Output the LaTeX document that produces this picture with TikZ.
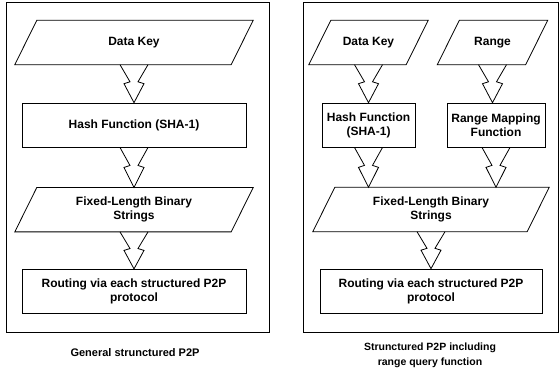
\documentclass[tikz,border=0pt]{standalone}
\usepackage{fontspec}
\setmainfont{Liberation Sans}
\usetikzlibrary{positioning,calc}

\tikzstyle{block} = [rectangle, draw, line width=0.8pt, text centered, align=center,
    minimum height=44pt, inner sep=2pt, font=\fontsize{12}{14}\selectfont\bfseries]
\tikzstyle{panel} = [rectangle, draw, line width=1pt, inner sep=0pt]
\tikzstyle{caption} = [align=center, font=\fontsize{11}{15}\selectfont\bfseries]
\tikzstyle{zapline} = [draw, line width=0.8pt, line join=miter]
\tikzset{para/.style={rectangle, text centered, align=center, minimum width=#1,
    minimum height=44pt, inner sep=2pt, font=\fontsize{12}{14}\selectfont\bfseries,
    append after command={\pgfextra{\draw[line width=0.8pt]
      ([xshift=11pt]\tikzlastnode.north west) -- ([xshift=11pt]\tikzlastnode.north east) --
      ([xshift=-11pt]\tikzlastnode.south east) -- ([xshift=-11pt]\tikzlastnode.south west) -- cycle;}}}}

% zigzag arrow from one node down to the next
\newcommand{\zap}[2]{%
  \coordinate (zt) at (#1.south);
  \coordinate (zb) at (#1.south |- #2.north);
  \draw[zapline] ($(zt)+(-14pt,0)$) -- ($(zt)!0.45!(zb)+(-4pt,0)$) -- ($(zt)!0.5!(zb)+(-10pt,0)$) --
    (zb) -- ($(zt)!0.5!(zb)+(10pt,0)$) -- ($(zt)!0.45!(zb)+(4pt,0)$) -- ($(zt)+(14pt,0)$);
}

\begin{document}
\begin{tikzpicture}[x=1pt,y=1pt,node distance=38pt]
  \useasboundingbox (0,0) rectangle (560,374);

  \node [panel, minimum width=263pt, minimum height=330pt] (left) at (137.5,206) {};
  \node [panel, minimum width=255pt, minimum height=330pt] (right) at (430.5,206) {};

  % general structured P2P
  \node [para=216pt] (key1) at (134,331.5) {Data Key};
  \node [block, minimum width=224pt, below=of key1] (hash1) {Hash Function (SHA-1)};
  \node [para=216pt, below=40pt of hash1] (bin1) {Fixed-Length Binary\\Strings};
  \node [block, minimum width=224pt, below=37pt of bin1] (route1) {Routing via each structured P2P\\protocol};
  \node [caption] (capl) at (135,21) {General strunctured P2P};

  % with range query
  \node [para=97pt] (key2) at (368.5,331.5) {Data Key};
  \node [para=88pt] (range) at (492.5,331.5) {Range};
  \node [block, minimum width=93pt, below=of key2] (hash2) {Hash Function\\(SHA-1)};
  \node [block, minimum width=98pt, below=of range, xshift=3.5pt] (map) {Range Mapping\\Function};
  \node [para=214pt] (bin2) at (431,164.5) {Fixed-Length Binary\\Strings};
  \node [block, minimum width=222pt, below=37pt of bin2] (route2) {Routing via each structured P2P\\protocol};
  \node [caption, font=\fontsize{10.5}{15}\selectfont\bfseries] (capr) at (430,19) {Strunctured P2P including\\range query function};

  \zap{key1}{hash1}
  \zap{hash1}{bin1}
  \zap{bin1}{route1}
  \zap{key2}{hash2}
  \zap{range}{map}
  \zap{hash2}{bin2}
  \zap{map}{bin2}
  \zap{bin2}{route2}
\end{tikzpicture}
\end{document}
